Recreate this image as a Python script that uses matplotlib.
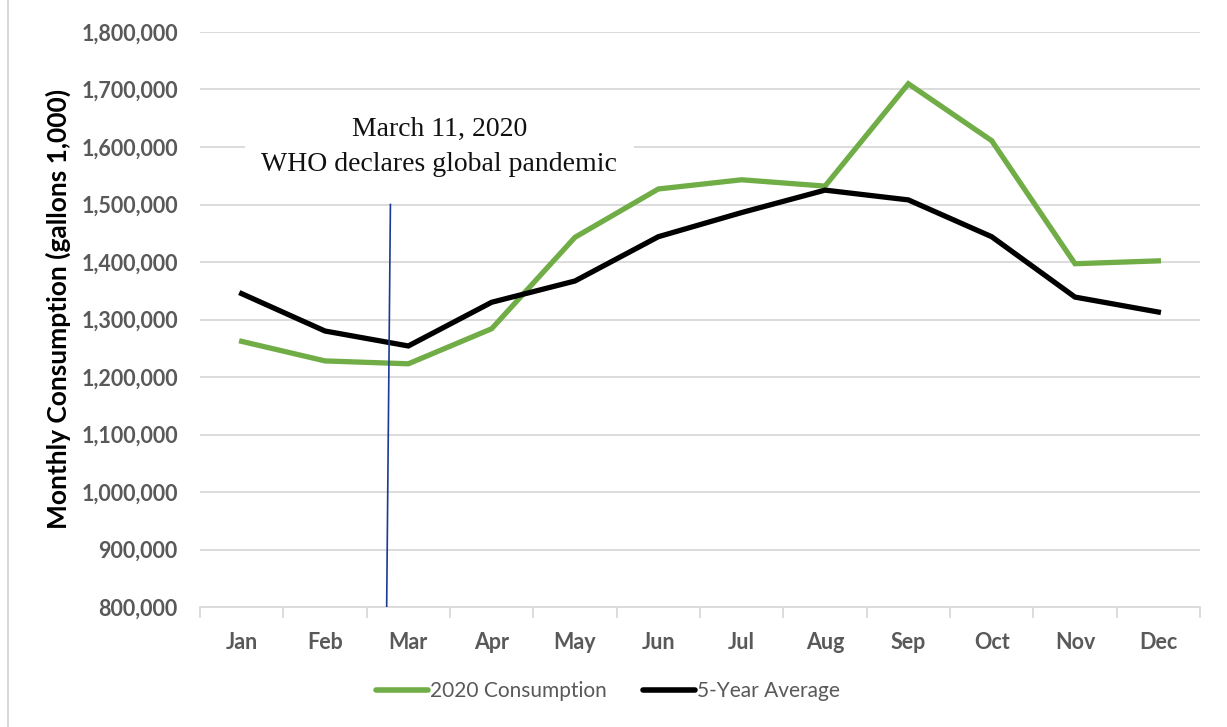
import matplotlib

matplotlib.use("Agg")
from matplotlib import pyplot as plt
from matplotlib.lines import Line2D
from matplotlib.ticker import FuncFormatter, MultipleLocator

GREEN = "#70ad47"
BLACK = "#000000"
TEXT = "#595959"
GRID = "#d9d9d9"
NAVY = "#1a3a94"

months = ["Jan", "Feb", "Mar", "Apr", "May", "Jun",
          "Jul", "Aug", "Sep", "Oct", "Nov", "Dec"]
consumption_2020 = [1262000, 1228000, 1223000, 1284000, 1443000, 1527000,
                    1543000, 1532000, 1710000, 1611000, 1397000, 1402000]
five_year_avg = [1345000, 1280000, 1254000, 1330000, 1367000, 1444000,
                 1486000, 1525000, 1508000, 1444000, 1339000, 1313000]

# pandemic marker, in category units
marker_x = [1.74, 1.785]
marker_y = [800000, 1500000]

plt.rcParams["font.family"] = ["Lato", "DejaVu Sans"]

fig = plt.figure(figsize=(12.27, 7.27), dpi=100, facecolor="white")
ax = fig.add_axes([0.163, 0.165, 0.815, 0.791])

x = list(range(len(months)))
ax.plot(x, consumption_2020, color=GREEN, linewidth=3.8, solid_joinstyle="miter",
        label="2020 Consumption", zorder=3)
ax.plot(x, five_year_avg, color=BLACK, linewidth=3.8, solid_joinstyle="miter",
        label="5-Year Average", zorder=3)
ax.plot(marker_x, marker_y, color=NAVY, linewidth=1.2, zorder=4)

ax.text(2.37, 1600000, "March 11, 2020\nWHO declares global pandemic",
        ha="center", va="center", family="Liberation Serif", fontsize=20,
        color="#111111", linespacing=1.5, zorder=5,
        bbox=dict(facecolor="white", edgecolor="none", pad=12))

ax.set_xlim(-0.5, 11.5)
ax.set_ylim(800000, 1800000)
ax.yaxis.set_major_locator(MultipleLocator(100000))
ax.yaxis.set_major_formatter(FuncFormatter(lambda v, _: f"{v:,.0f}"))
ax.grid(axis="y", color=GRID, linewidth=1.3)
ax.set_axisbelow(True)

ax.set_xticks(x)
ax.set_xticklabels(months)
ax.set_xticks([i - 0.5 for i in range(13)], minor=True)
ax.tick_params(axis="x", which="major", length=0, pad=18)
ax.tick_params(axis="x", which="minor", length=8, width=1.3, color=GRID, direction="out")
ax.tick_params(axis="y", length=0, pad=16)
for label in ax.get_xticklabels() + ax.get_yticklabels():
    label.set_fontsize(15.5)
    label.set_fontweight("bold")
    label.set_color(TEXT)

for side in ("top", "right", "left"):
    ax.spines[side].set_visible(False)
ax.spines["bottom"].set_color(GRID)
ax.spines["bottom"].set_linewidth(1.3)

fig.text(58 / 1227, 1 - 309 / 727, "Monthly Consumption (gallons 1,000)",
         rotation=90, ha="center", va="center", fontsize=19, fontweight="bold",
         color=BLACK)

handles = [Line2D([], [], color=GREEN, linewidth=4, solid_capstyle="round"),
           Line2D([], [], color=BLACK, linewidth=4, solid_capstyle="round")]
leg = fig.legend(handles, ["2020 Consumption", "5-Year Average"], loc="center",
                 bbox_to_anchor=(0.4955, 0.049), ncol=2, frameon=False, fontsize=15,
                 handlelength=2.5, handletextpad=0.1, columnspacing=1.7)
for t in leg.get_texts():
    t.set_color(TEXT)

fig.add_artist(Line2D([0.0065, 0.0065], [0, 1], color=GRID, linewidth=1.5))

fig.savefig("out.png", dpi=100, facecolor="white")
